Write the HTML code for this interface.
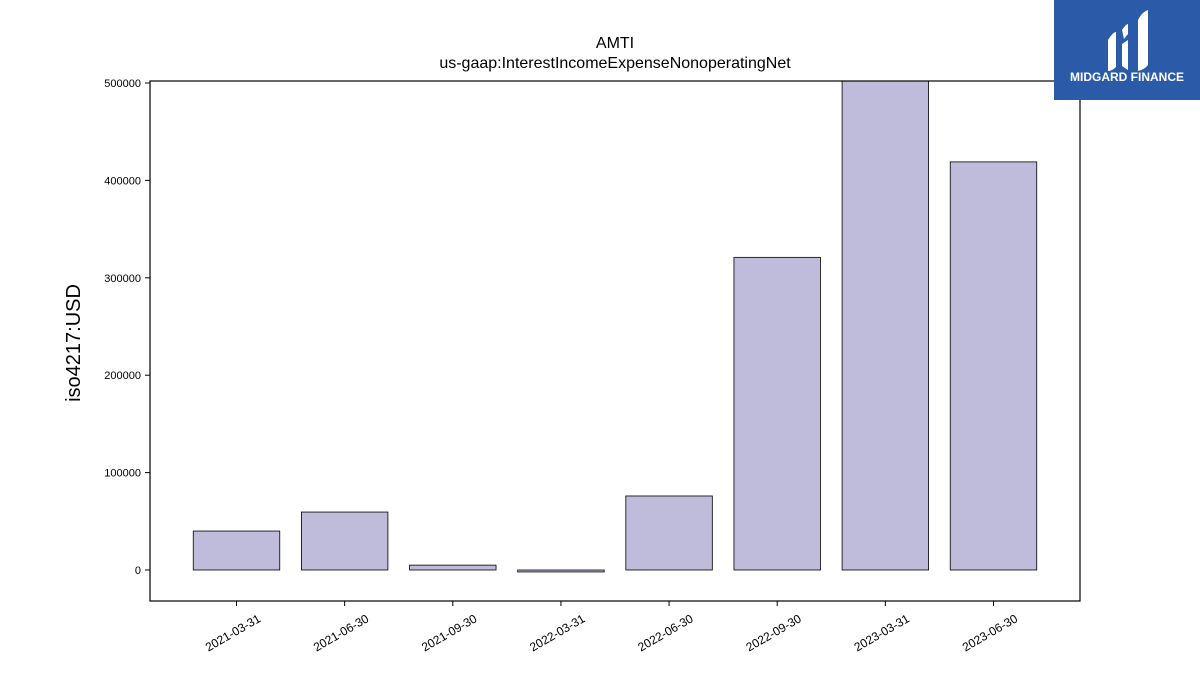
<!DOCTYPE html>
<html><head><meta charset="utf-8"><style>
body{margin:0;background:#fff;width:1200px;height:675px;overflow:hidden;font-family:"Liberation Sans","DejaVu Sans",sans-serif}
</style></head><body>
<svg id="chart" width="1200" height="675" xmlns="http://www.w3.org/2000/svg">
<text x="615" y="48" text-anchor="middle" font-size="16">AMTI</text>
<text x="615" y="68" text-anchor="middle" font-size="16">us-gaap:InterestIncomeExpenseNonoperatingNet</text>
<text transform="translate(80,343) rotate(-90)" text-anchor="middle" font-size="20">iso4217:USD</text>
<g id="bars"></g>
<g id="yticks"></g>
<g id="xticks"></g>
<rect x="150" y="81" width="930" height="520" fill="none" stroke="#000" stroke-width="1.2"/>
<g>
<rect x="1054" y="0" width="146" height="100" fill="#2b5aa9"/>
<path d="M1108 40 q5-8 8-8 v35 q-4 4-8 4z M1122 30 q4-6 6-6 v10 l-4 5 z M1122 44 l6 -4 v30 l-6 -4z M1138 20 q4-8 10-10 v55 q-4 5-10 6z" fill="#fff"/>
<text x="1127" y="81" text-anchor="middle" font-size="12" font-weight="bold" fill="#fff">MIDGARD FINANCE</text>
</g>
</svg>
<script>
const categories=["2021-03-31","2021-06-30","2021-09-30","2022-03-31","2022-06-30","2022-09-30","2023-03-31","2023-06-30"];
const values=[40000,59500,5000,-2000,76000,321000,503000,419000];
const yTicks=[0,100000,200000,300000,400000,500000];
const NS="http://www.w3.org/2000/svg";
const x0=150,x1=1080,yTop=81,yBot=601;
const step=(x1-x0)/(categories.length-1+1.6);
function xPos(i){return x0+step*(0.8+i);}
function yPos(v){return 570-v*0.000974;}
const bars=document.getElementById('bars'),yt=document.getElementById('yticks'),xt=document.getElementById('xticks');
function mk(t,a,p){const e=document.createElementNS(NS,t);for(const k in a)e.setAttribute(k,a[k]);p.appendChild(e);return e;}
categories.forEach((c,i)=>{
  const w=step*0.8,cx=xPos(i),v=values[i];
  let top=Math.max(yPos(Math.max(v,0)),yTop),bot=yPos(Math.min(v,0));
  const r=mk('rect',{x:cx-w/2,y:top,width:w,height:Math.max(bot-top,0.5),fill:'#bebbdb',stroke:'#000','stroke-width':0.8},bars);
  
  
  const l=mk('line',{x1:cx,x2:cx,y1:yBot,y2:yBot+5,stroke:'#000'},xt);
  
  
  const t=mk('text',{x:cx,y:yBot+20,'font-size':12,'text-anchor':'end',transform:`rotate(-30 ${cx+25} ${yBot+20}) translate(25 0)`},xt);
  t.textContent=c;
  
  
});
yTicks.forEach(v=>{
  const y=yPos(v);
  const l=mk('line',{x1:x0-5,x2:x0,y1:y,y2:y,stroke:'#000'},yt);
  
  
  const t=mk('text',{x:x0-9,y:y+4,'font-size':11,'text-anchor':'end'},yt);
  t.textContent=String(v);
  
  
});
</script>
</body></html>
